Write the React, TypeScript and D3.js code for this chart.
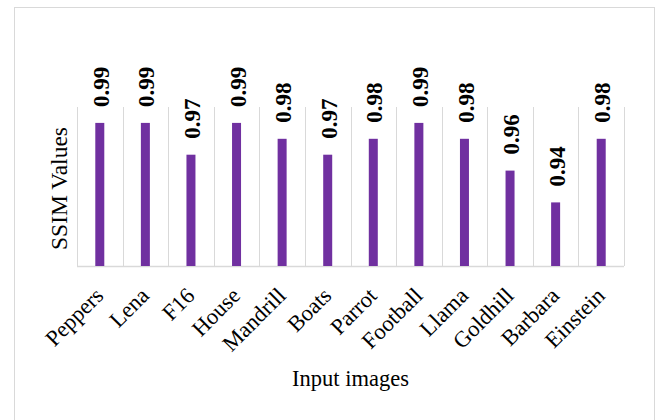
import React, { useEffect, useRef } from "react";
import * as d3 from "d3";

const images = ["Peppers", "Lena", "F16", "House", "Mandrill", "Boats", "Parrot", "Football", "Llama", "Goldhill", "Barbara", "Einstein"];
const ssim = [0.99, 0.99, 0.97, 0.99, 0.98, 0.97, 0.98, 0.99, 0.98, 0.96, 0.94, 0.98];
const yDomain = [0.9, 1.0];

export default function App() {
  const ref = useRef<SVGSVGElement | null>(null);
  useEffect(() => {
    const node = ref.current; if (!node) return;
    const svg = d3.select(node);
    const w = 658, h = 420, m = { t: 107, r: 34, b: 154, l: 77 };
    const font = "'Liberation Serif', 'Times New Roman', serif";
    svg.attr("viewBox", `0 0 ${w} ${h}`).selectAll("*").remove();
    svg.append("rect").attr("x", 14.5).attr("y", 7.5).attr("width", 640).attr("height", 430)
      .attr("fill", "#fff").attr("stroke", "#d9d9d9").attr("stroke-width", 1);

    const x = d3.scaleBand<string>().domain(images).range([m.l, w - m.r]).padding(0);
    const y = d3.scaleLinear().domain(yDomain).range([h - m.b, m.t]);
    const g = svg.append("g");

    // vertical gridlines between categories
    const edges = images.map((d) => x(d) as number).concat([w - m.r]);
    g.selectAll("line.grid").data(edges).join("line").attr("class", "grid")
      .attr("x1", (d) => Math.round(d) + 0.5).attr("x2", (d) => Math.round(d) + 0.5)
      .attr("y1", m.t).attr("y2", h - m.b).attr("stroke", "#d9d9d9").attr("stroke-width", 1);
    g.append("line").attr("x1", m.l).attr("x2", w - m.r).attr("y1", h - m.b + 0.5).attr("y2", h - m.b + 0.5)
      .attr("stroke", "#d9d9d9").attr("stroke-width", 1.5);

    const bw = 9;
    const data = images.map((name, i) => ({ name, v: ssim[i] }));
    g.selectAll("rect.bar").data(data).join("rect").attr("class", "bar")
      .attr("x", (d) => (x(d.name) as number) + x.bandwidth() / 2 - bw / 2)
      .attr("y", (d) => y(d.v)).attr("width", bw).attr("height", (d) => y(yDomain[0]) - y(d.v))
      .attr("fill", "#7030a0");

    // value labels
    g.selectAll("text.val").data(data).join("text").attr("class", "val")
      .attr("transform", (d) => `translate(${(x(d.name) as number) + x.bandwidth() / 2 + 1},${y(d.v) - 16}) rotate(-90)`)
      .attr("dy", "0.35em").attr("font-family", font).attr("font-weight", "bold").attr("font-size", 23)
      .attr("fill", "#000").text((d) => d.v.toFixed(2));

    // x tick labels
    g.selectAll("text.tick").data(images).join("text").attr("class", "tick")
      .attr("transform", (d) => `translate(${(x(d) as number) + x.bandwidth() / 2 + 5},${h - m.b + 31}) rotate(-45)`)
      .attr("text-anchor", "end").attr("font-family", font).attr("font-size", 22.5).attr("fill", "#000").text((d) => d);

    svg.append("text").attr("x", (m.l + w - m.r) / 2).attr("y", 386).attr("text-anchor", "middle")
      .attr("font-family", font).attr("font-size", 22.5).attr("fill", "#000").text("Input images");
    svg.append("text").attr("transform", `translate(59,188.5) rotate(-90)`)
      .attr("text-anchor", "middle").attr("dy", "0.35em")
      .attr("font-family", font).attr("font-size", 23.5).attr("fill", "#000").text("SSIM Values");
  }, []);
  return <svg ref={ref} width={658} height={420} style={{ position: "absolute", left: 0, top: 0, display: "block" }} />;
}
